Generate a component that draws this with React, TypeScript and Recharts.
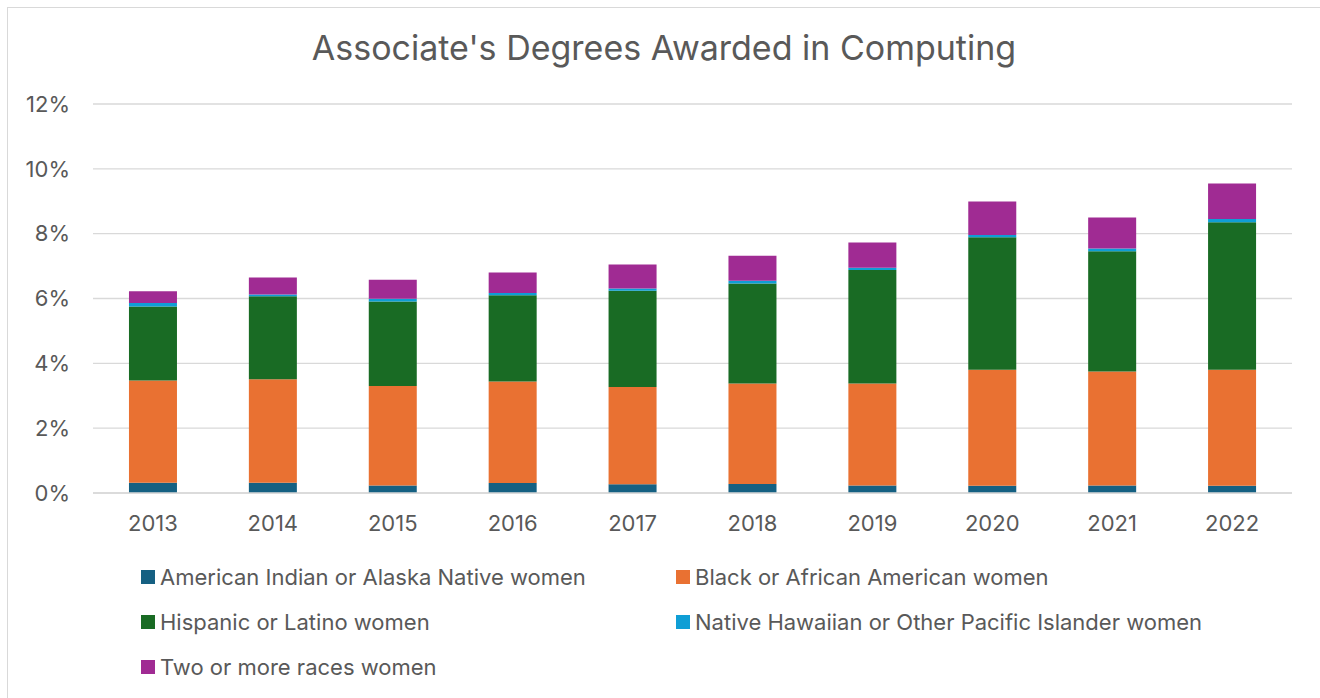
import { BarChart, Bar, XAxis, YAxis, CartesianGrid } from 'recharts';

// values in percent
const years = ['2013', '2014', '2015', '2016', '2017', '2018', '2019', '2020', '2021', '2022'];
const americanIndian = [0.32, 0.32, 0.23, 0.31, 0.27, 0.28, 0.23, 0.22, 0.23, 0.22];
const black = [3.15, 3.19, 3.07, 3.13, 3.0, 3.1, 3.15, 3.58, 3.52, 3.58];
const hispanic = [2.28, 2.56, 2.61, 2.66, 2.97, 3.08, 3.5, 4.09, 3.71, 4.55];
const pacificIslander = [0.11, 0.05, 0.08, 0.07, 0.07, 0.09, 0.07, 0.07, 0.08, 0.1];
const twoOrMore = [0.36, 0.53, 0.59, 0.63, 0.74, 0.77, 0.78, 1.03, 0.96, 1.1];
const yTicks = [0, 2, 4, 6, 8, 10, 12];

const series = [
  { key: 'aian', name: 'American Indian or Alaska Native women', color: '#156082', values: americanIndian },
  { key: 'black', name: 'Black or African American women', color: '#e97132', values: black },
  { key: 'hisp', name: 'Hispanic or Latino women', color: '#196b24', values: hispanic },
  { key: 'nhpi', name: 'Native Hawaiian or Other Pacific Islander women', color: '#0f9ed5', values: pacificIslander },
  { key: 'two', name: 'Two or more races women', color: '#a02b93', values: twoOrMore },
];

const data = years.map((year, i) => {
  const row: Record<string, string | number> = { year };
  series.forEach((s) => {
    row[s.key] = s.values[i];
  });
  return row;
});

const FONT = 'Inter, "Open Sans", sans-serif';
const TEXT = '#595959';

export default function App() {
  return (
    <div style={{ position: 'absolute', left: 0, top: 0, width: 1320, height: 698, overflow: 'hidden', background: '#fff' }}>
      <div
        style={{
          position: 'absolute',
          left: 7,
          top: 7,
          width: 1330,
          height: 700,
          border: '1px solid #d9d9d9',
        }}
      />
      <div
        style={{
          position: 'absolute',
          left: 0,
          top: 26,
          width: 1328,
          textAlign: 'center',
          fontFamily: FONT,
          fontSize: 34,
          color: TEXT,
          lineHeight: '44px',
        }}
      >
        Associate's Degrees Awarded in Computing
      </div>
      <div style={{ position: 'absolute', left: 0, top: 0 }}>
        <BarChart
          width={1320}
          height={698}
          data={data}
          margin={{ top: 104, right: 28, bottom: 175, left: 0 }}
          barCategoryGap="30%"
        >
          <CartesianGrid vertical={false} stroke="#d9d9d9" strokeWidth={1.3} />
          <XAxis
            dataKey="year"
            axisLine={{ stroke: '#d9d9d9', strokeWidth: 1.3 }}
            tickLine={false}
            tickSize={0}
            tickMargin={22}
            height={30}
            tick={{ fill: TEXT, fontSize: 22, fontFamily: FONT }}
          />
          <YAxis
            width={93}
            domain={[0, 12]}
            ticks={yTicks}
            axisLine={false}
            tickLine={false}
            tickSize={0}
            tickMargin={23}
            tickFormatter={(v: number) => `${v}%`}
            tick={{ fill: TEXT, fontSize: 22, fontFamily: FONT }}
          />
          {series.map((s) => (
            <Bar key={s.key} dataKey={s.key} name={s.name} stackId="a" fill={s.color} isAnimationActive={false} />
          ))}
        </BarChart>
      </div>
      <div
        style={{
          position: 'absolute',
          left: 141,
          top: 565,
          display: 'grid',
          gridTemplateColumns: '535px 600px',
          rowGap: 21,
          fontFamily: FONT,
          fontSize: 22,
          color: TEXT,
        }}
      >
        {series.map((s) => (
          <div key={s.key} style={{ display: 'flex', alignItems: 'center', height: 24 }}>
            <span style={{ width: 14, height: 14, background: s.color, marginRight: 5, display: 'inline-block' }} />
            <span>{s.name}</span>
          </div>
        ))}
      </div>
    </div>
  );
}
